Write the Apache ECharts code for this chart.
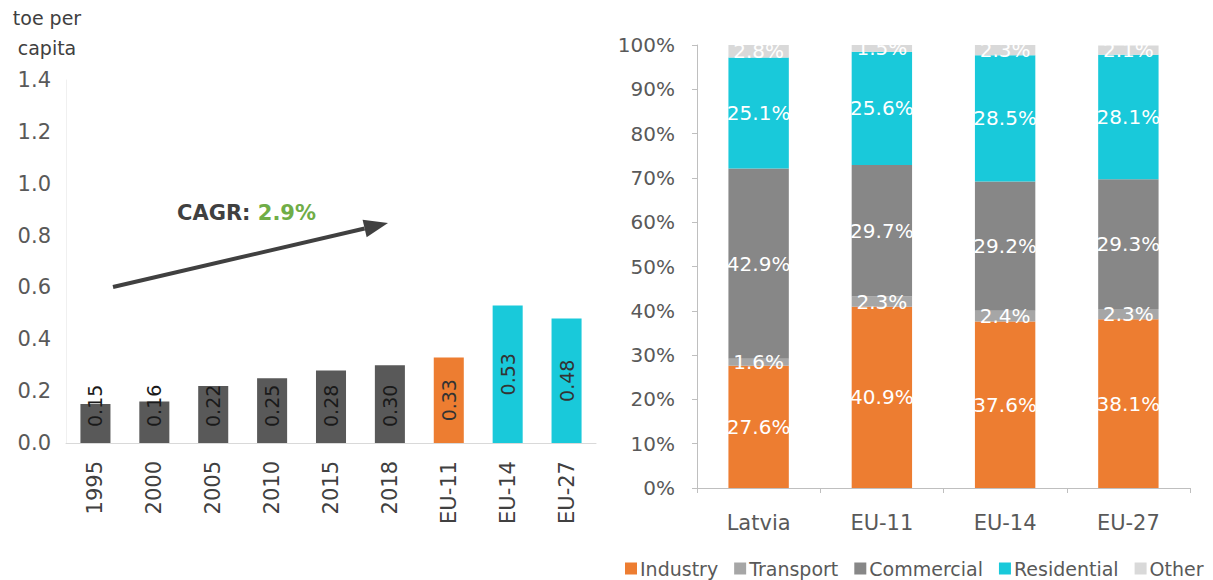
<!DOCTYPE html>
<html>
<head>
<meta charset="utf-8">
<script src="https://cdn.jsdelivr.net/npm/echarts@6/dist/echarts.min.js"></script>
<style>
html,body{margin:0;padding:0;background:#fff;}
#chart{width:1213px;height:580px;}
</style>
</head>
<body>
<div id="chart"></div>
<script>
// ---- data ----
const leftCategories = ['1995','2000','2005','2010','2015','2018','EU-11','EU-14','EU-27'];
const leftValues = [0.15,0.16,0.22,0.25,0.28,0.30,0.33,0.53,0.48];
const leftUnit = 'toe per\ncapita';
const cagrLabel = 'CAGR: ';
const cagrValue = '2.9%';

const rightCategories = ['Latvia','EU-11','EU-14','EU-27'];
const seriesNames = ['Industry','Transport','Commercial','Residential','Other'];
const industry    = [27.6, 40.9, 37.6, 38.1];
const transport   = [1.6, 2.3, 2.4, 2.3];
const commercial  = [42.9, 29.7, 29.2, 29.3];
const residential = [25.1, 25.6, 28.5, 28.1];
const other       = [2.8, 1.5, 2.3, 2.1];

// ---- styles ----
const FONT = 'DejaVu Sans';
const ORANGE = '#ED7D31', CYAN = '#19C9DA', DARK = '#595959';
const rightColors = [ORANGE, '#A6A6A6', '#878787', CYAN, '#D9D9D9'];
function leftColor(cat){
  if (cat === 'EU-11') return ORANGE;
  if (cat.indexOf('EU') === 0) return CYAN;
  return DARK;
}

const leftData = leftValues.map((v,i)=>{
  const cat = leftCategories[i];
  const isEU = cat.indexOf('EU') === 0;
  return {
    value: v,
    itemStyle: {color: leftColor(cat)},
    label: isEU
      ? {position:'inside', align:'center', verticalAlign:'middle', color:'#333333'}
      : {position:'insideBottom', distance:16, align:'left', verticalAlign:'middle', color:'#1a1a1a'}
  };
});

const rightSeriesData = [industry, transport, commercial, residential, other];

const chart = echarts.init(document.getElementById('chart'), null, {renderer:'svg'});

// arrow geometry (annotation)
const tail = [113, 287], tip = [388, 223];
const dx = tip[0]-tail[0], dy = tip[1]-tail[1], L = Math.sqrt(dx*dx+dy*dy);
const ux = dx/L, uy = dy/L, headLen = 24, headHalf = 9;
const base = [tip[0]-headLen*ux, tip[1]-headLen*uy];
const nx = -uy, ny = ux;

const option = {
  animation: false,
  backgroundColor: '#ffffff',
  textStyle: {fontFamily: FONT},
  grid: [
    {left: 66, right: 617, top: 80, bottom: 137},
    {left: 697, right: 23, top: 45, bottom: 92}
  ],
  legend: {
    data: seriesNames,
    left: 620, top: 554,
    itemWidth: 12, itemHeight: 12, itemGap: 16,
    icon: 'rect',
    textStyle: {fontFamily: FONT, fontSize: 19, color: '#595959', padding:[0,0,0,-2]}
  },
  xAxis: [
    {
      type: 'category', gridIndex: 0, data: leftCategories,
      axisLine: {lineStyle: {color: '#D9D9D9', width: 1}},
      axisTick: {show: false},
      axisLabel: {rotate: 90, margin: 18, fontFamily: FONT, fontSize: 21, color: '#404040'}
    },
    {
      type: 'category', gridIndex: 1, data: rightCategories,
      axisLine: {lineStyle: {color: '#BFBFBF', width: 1}},
      axisTick: {show: true, alignWithLabel: false, length: 5, lineStyle: {color: '#BFBFBF'}},
      axisLabel: {margin: 24, fontFamily: FONT, fontSize: 21, color: '#595959'}
    }
  ],
  yAxis: [
    {
      type: 'value', gridIndex: 0, min: 0, max: 1.4, interval: 0.2,
      axisLine: {show: true, lineStyle: {color: '#F0F0F0'}},
      axisTick: {show: false},
      splitLine: {show: false},
      axisLabel: {margin: 15, fontFamily: FONT, fontSize: 21, color: '#595959',
        formatter: v => v.toFixed(1)}
    },
    {
      type: 'value', gridIndex: 1, min: 0, max: 100, interval: 10,
      axisLine: {show: true, lineStyle: {color: '#BFBFBF'}},
      axisTick: {show: true, inside: false, length: 5, lineStyle: {color: '#BFBFBF'}},
      splitLine: {show: false},
      axisLabel: {margin: 22, fontFamily: FONT, fontSize: 20, color: '#595959',
        formatter: '{value}%'}
    }
  ],
  series: [
    {
      name: 'toe per capita', type: 'bar', xAxisIndex: 0, yAxisIndex: 0,
      barWidth: '51%', data: leftData,
      label: {show: true, rotate: 90, fontFamily: FONT, fontSize: 19,
        formatter: p => p.value.toFixed(2)}
    }
  ].concat(seriesNames.map((name, k) => ({
    name: name, type: 'bar', stack: 'share', xAxisIndex: 1, yAxisIndex: 1,
    barWidth: '49%',
    itemStyle: {color: rightColors[k]},
    data: rightSeriesData[k],
    label: {show: true, position: 'inside', color: '#ffffff', fontFamily: FONT, fontSize: 20,
      formatter: p => p.value.toFixed(1) + '%'}
  }))),
  graphic: [
    {
      type: 'text', x: 47, y: 3,
      style: {text: leftUnit, fontFamily: FONT, fontSize: 19, fill: '#404040',
        align: 'center', verticalAlign: 'top', lineHeight: 30}
    },
    {
      type: 'line',
      shape: {x1: tail[0], y1: tail[1], x2: base[0], y2: base[1]},
      style: {stroke: '#404040', lineWidth: 4}
    },
    {
      type: 'polygon',
      shape: {points: [tip, [base[0]+headHalf*nx, base[1]+headHalf*ny], [base[0]-headHalf*nx, base[1]-headHalf*ny]]},
      style: {fill: '#404040'}
    },
    {
      type: 'text', x: 177, y: 213,
      style: {
        text: '{a|' + cagrLabel + '}{b|' + cagrValue + '}',
        verticalAlign: 'middle',
        rich: {
          a: {fontFamily: FONT, fontSize: 21, fontWeight: 'bold', fill: '#404040', color: '#404040'},
          b: {fontFamily: FONT, fontSize: 21, fontWeight: 'bold', fill: '#70AD47', color: '#70AD47'}
        }
      }
    }
  ]
};
chart.setOption(option);
</script>
</body>
</html>
